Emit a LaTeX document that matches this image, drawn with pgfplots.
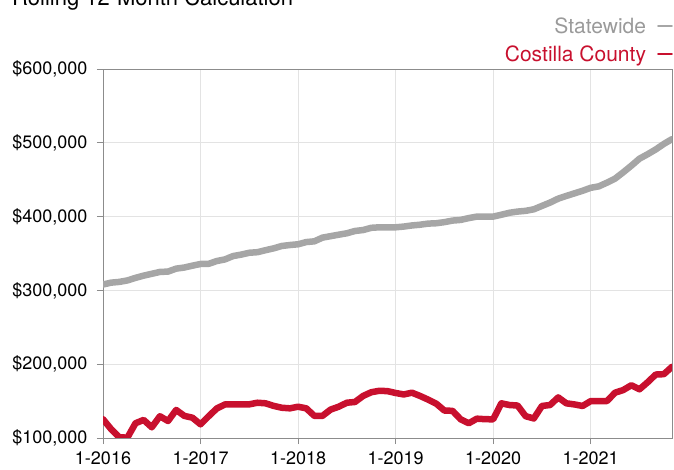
\documentclass[border=0pt]{standalone}
\usepackage{pgfplots}
\usepackage{pgfplotstable}
\pgfplotsset{compat=1.18}
\usepackage{fontspec}
\setmainfont{TeX Gyre Heros}
\definecolor{stgray}{HTML}{A6A6A6}
\definecolor{stgraytext}{HTML}{9A9A9A}
\definecolor{cored}{HTML}{C8102E}
\definecolor{gridc}{HTML}{E3E3E3}
\definecolor{axc}{HTML}{8C8C8C}

\pgfplotstableread{
m state cost
0 308.0 125.5
1 310.5 112.0
2 311.5 101.0
3 313.5 100.5
4 317.0 120.0
5 320.0 124.5
6 322.5 114.5
7 325.0 129.5
8 325.5 123.0
9 329.5 138.0
10 331.0 130.0
11 333.5 127.5
12 335.8 118.5
13 336.0 129.5
14 339.8 140.0
15 342.0 145.5
16 346.5 145.6
17 348.5 145.6
18 351.0 145.6
19 351.8 147.8
20 354.5 147.0
21 357.0 143.5
22 360.2 141.0
23 361.5 140.2
24 362.5 142.4
25 365.5 140.2
26 366.5 130.0
27 371.5 130.0
28 373.5 138.5
29 375.5 142.4
30 377.4 147.8
31 380.5 148.8
32 381.8 157.0
33 384.8 162.0
34 385.5 164.0
35 385.5 163.5
36 385.5 161.0
37 386.5 159.0
38 388.0 161.4
39 389.0 157.0
40 390.5 152.0
41 391.0 146.5
42 392.5 137.2
43 394.6 136.8
44 395.5 125.3
45 398.0 120.0
46 400.0 126.2
47 400.0 125.5
48 400.0 125.3
49 402.5 147.0
50 405.2 144.7
51 406.8 144.0
52 407.8 129.5
53 409.9 126.5
54 414.5 143.4
55 419.0 144.7
56 424.3 155.0
57 428.0 147.0
58 431.5 145.5
59 435.0 143.4
60 439.0 150.0
61 441.0 150.1
62 446.0 150.1
63 451.5 161.4
64 460.0 165.0
65 469.0 171.5
66 478.5 166.0
67 484.5 175.5
68 491.0 186.0
69 498.5 186.5
70 505.0 196.5
}\datatable

\begin{document}
\begin{tikzpicture}
\node[anchor=base west, font=\fontsize{22bp}{26bp}\selectfont, inner sep=0pt] at (12bp,464bp) {Rolling 12-Month Calculation};
\begin{axis}[
  at={(103bp,32bp)}, anchor=south west, scale only axis,
  width=569bp, height=369bp,
  xmin=0, xmax=70, ymin=100, ymax=600,
  xtick={0,12,24,36,48,60},
  xticklabels={1-2016,1-2017,1-2018,1-2019,1-2020,1-2021},
  ytick={100,200,300,400,500,600},
  yticklabels={{\$100,000},{\$200,000},{\$300,000},{\$400,000},{\$500,000},{\$600,000}},
  tick pos=left,
  tick align=outside,
  major tick length=6bp,
  tick style={axc, line width=0.8bp},
  grid=major,
  grid style={gridc, line width=1bp},
  axis line style={axc, line width=1bp},
  ticklabel style={font=\fontsize{18bp}{21bp}\selectfont},
  yticklabel style={xshift=-6bp},
  xticklabel style={yshift=-4bp},
  legend style={at={(axis description cs:1,1)}, anchor=south east, xshift=1bp, yshift=4bp,
    draw=none, fill=none, inner sep=0pt, row sep=7bp,
    font=\fontsize{21bp}{25bp}\selectfont},
  legend plot pos=right,
  legend cell align=right,
  legend image code/.code={\path[draw=none, fill=none] (0bp,0bp) -- (1bp,0bp); \draw[#1, line width=1.6bp] (10bp,0bp) -- (24bp,0bp);},
]
\addplot[stgray, line width=6.5bp, line join=round, line cap=round] table[x=m, y=state] {\datatable};
\addlegendentry{\textcolor{stgraytext}{Statewide}}
\addplot[cored, line width=6.5bp, line join=round, line cap=round] table[x=m, y=cost] {\datatable};
\addlegendentry{\textcolor{cored}{Costilla County}}
\end{axis}
\pgfresetboundingbox
\useasboundingbox (0bp,0bp) rectangle (674bp,470bp);
\end{tikzpicture}
\end{document}
